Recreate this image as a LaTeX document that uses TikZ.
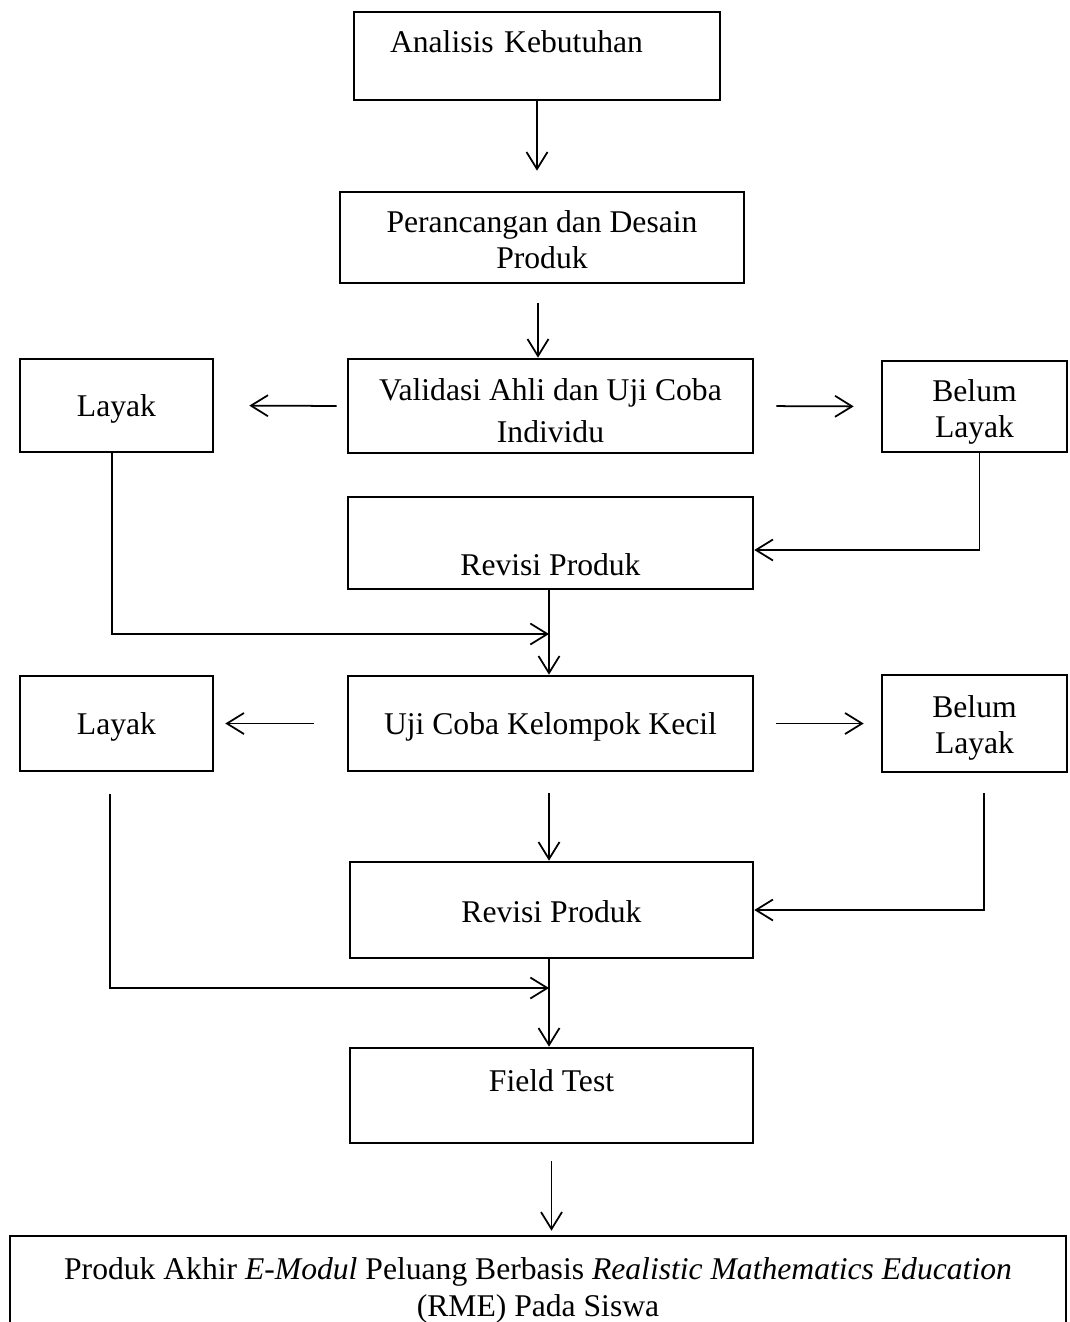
\documentclass[tikz,border=0pt]{standalone}
\usepackage{fontspec}
\setmainfont{Liberation Serif}
\usetikzlibrary{arrows.meta}

\begin{document}
\begin{tikzpicture}[x=0.02cm,y=-0.02cm,
  font=\fontsize{18}{20.5}\selectfont,
  >={Straight Barb[length=0.34cm,width=0.42cm]},
  box/.style={draw, line width=1.5pt, align=center, inner sep=0pt, text depth=0pt},
  link/.style={line width=1pt}]
\clip (0,0) rectangle (1069,1322);

\node[box, minimum width=7.32cm, minimum height=1.76cm, align=left, text width=5.88cm, inner xsep=0.72cm, text depth=16.5pt] (analisis) at (537,56) {Analisis Kebutuhan};
\node[box, minimum width=8.08cm, minimum height=1.82cm] (desain) at (542,237.5) {\rule{0pt}{15pt}Perancangan dan Desain\\Produk};
\node[box, minimum width=8.10cm, minimum height=1.88cm] (validasi) at (550.5,406) {\rule{0pt}{17.5pt}Validasi Ahli dan Uji Coba\\[3.5pt]Individu};
\node[box, minimum width=3.86cm, minimum height=1.86cm] (layak1) at (116.5,405.5) {Layak};
\node[box, minimum width=3.70cm, minimum height=1.82cm] (belum1) at (974.5,406.5) {\rule{0pt}{15pt}Belum\\Layak};
\node[box, minimum width=8.10cm, minimum height=1.84cm] (revisi1) at (550.5,543) {\rule{0pt}{16pt}\\Revisi Produk};
\node[box, minimum width=3.86cm, minimum height=1.90cm] (layak2) at (116.5,723.5) {Layak};
\node[box, minimum width=8.10cm, minimum height=1.90cm] (ujikecil) at (550.5,723.5) {Uji Coba Kelompok Kecil};
\node[box, minimum width=3.70cm, minimum height=1.94cm] (belum2) at (974.5,723.5) {\rule{0pt}{14pt}Belum\\Layak};
\node[box, minimum width=8.06cm, minimum height=1.92cm] (revisi2) at (551.5,910) {\rule{0pt}{14pt}Revisi Produk};
\node[box, minimum width=8.06cm, minimum height=1.90cm] (field) at (551.5,1095.5) {Field Test\\[-3pt]\mbox{}};
\node[box, minimum width=21.12cm, minimum height=2.04cm] (akhir) at (538,1287) {Produk Akhir \textit{E-Modul} Peluang Berbasis \textit{Realistic Mathematics Education}\\[1pt](RME) Pada Siswa};

\coordinate (gabung1) at (549,634);
\coordinate (gabung2) at (549,988);

\draw[link,->,shorten >=0.4cm] (analisis.south) -- (analisis.south |- desain.north);
\draw[link,->,shorten <=0.38cm] ([xshift=-0.08cm]desain.south) -- ([xshift=-0.08cm]desain.south |- validasi.north);
\draw[link,->,shorten <=0.2cm,shorten >=0.7cm] (validasi.west) -- (layak1.east);
\draw[link,->,shorten <=0.44cm,shorten >=0.54cm] (validasi.east) -- (belum1.west);
\draw[link,->] ([xshift=0.1cm]belum1.south) |- ([yshift=-0.14cm]revisi1.east);
\draw[link,->] ([xshift=-0.09cm]layak1.south) |- (gabung1);
\draw[link,->] ([xshift=-0.03cm]revisi1.south) -- ([xshift=-0.03cm]revisi1.south |- ujikecil.north);

\draw[link,->,shorten <=0.66cm,shorten >=0.22cm] (ujikecil.west) -- (layak2.east);
\draw[link,->,shorten <=0.44cm,shorten >=0.34cm] (ujikecil.east) -- (belum2.west);
\draw[link,->,shorten <=0.42cm] ([xshift=-0.03cm]ujikecil.south) -- ([xshift=-0.03cm]ujikecil.south |- revisi2.north);
\draw[link,->,shorten <=0.4cm] ([xshift=0.19cm]belum2.south) |- (revisi2.east);
\draw[link,->,shorten <=0.44cm] ([xshift=-0.13cm]layak2.south) |- (gabung2);
\draw[link,->] ([xshift=-0.05cm]revisi2.south) -- ([xshift=-0.05cm]revisi2.south |- field.north);
\draw[link,->,shorten <=0.34cm,shorten >=0.08cm] (field.south) -- (field.south |- akhir.north);
\end{tikzpicture}
\end{document}
